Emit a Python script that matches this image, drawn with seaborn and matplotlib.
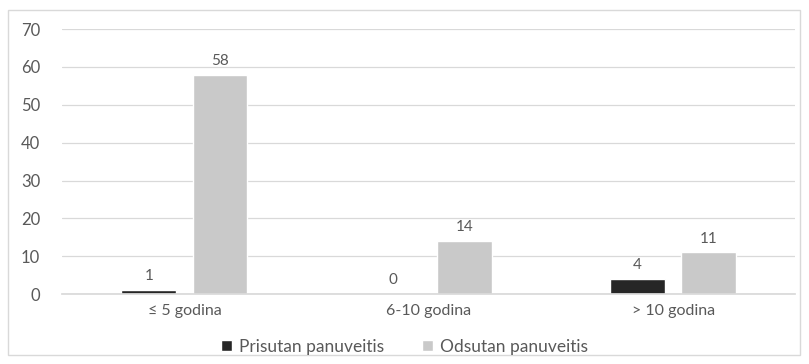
import matplotlib
matplotlib.use("Agg")
import matplotlib.pyplot as plt
import seaborn as sns
import pandas as pd
from matplotlib.patches import Rectangle

categories = ["≤ 5 godina", "6-10 godina", "> 10 godina"]
series_names = ["Prisutan panuveitis", "Odsutan panuveitis"]
prisutan = [1, 0, 4]
odsutan = [58, 14, 11]
y_ticks = [0, 10, 20, 30, 40, 50, 60, 70]

df = pd.DataFrame({
    "kategorija": categories * 2,
    "grupa": [series_names[0]] * 3 + [series_names[1]] * 3,
    "broj": prisutan + odsutan,
})

sns.set_theme(style="white")
plt.rcParams["font.family"] = ["Lato", "DejaVu Sans"]
text_color = "#595959"

fig = plt.figure(figsize=(8.09, 3.64), dpi=100)
ax = fig.add_axes([0.077, 0.192, 0.906, 0.728])

palette = {series_names[0]: "#262626", series_names[1]: "#c9c9c9"}
sns.barplot(data=df, x="kategorija", y="broj", hue="grupa", order=categories,
            hue_order=series_names, palette=palette, width=0.582, gap=0.227,
            saturation=1, ax=ax, legend=True)

for container in ax.containers:
    ax.bar_label(container, labels=[f"{v:g}" for v in container.datavalues],
                 padding=5, fontsize=11, color=text_color)

ax.set_ylim(0, 70)
ax.set_yticks(y_ticks)
ax.set_xlim(-0.5, 2.5)
ax.grid(axis="y", color="#d9d9d9", linewidth=0.9)
ax.set_axisbelow(True)
for s in ["top", "right", "left"]:
    ax.spines[s].set_visible(False)
ax.spines["bottom"].set_color("#d9d9d9")
ax.tick_params(axis="both", length=0, colors=text_color)
ax.tick_params(axis="y", pad=16, labelsize=12)
ax.tick_params(axis="x", pad=7, labelsize=11.5)
ax.set_xlabel("")
ax.set_ylabel("")

handles, labels = ax.get_legend_handles_labels()
ax.legend_.remove()
fig.legend(handles, labels, loc="center", bbox_to_anchor=(0.5, 0.047), ncol=2,
           frameon=False, fontsize=12.5, labelcolor=text_color, handlelength=0.6,
           handleheight=0.6, handletextpad=0.4, columnspacing=2.2)

fig.patches.append(Rectangle((0.01, 0.025), 0.979, 0.948, transform=fig.transFigure,
                             fill=False, edgecolor="#d9d9d9", linewidth=1))

fig.savefig("out.png", dpi=100)
